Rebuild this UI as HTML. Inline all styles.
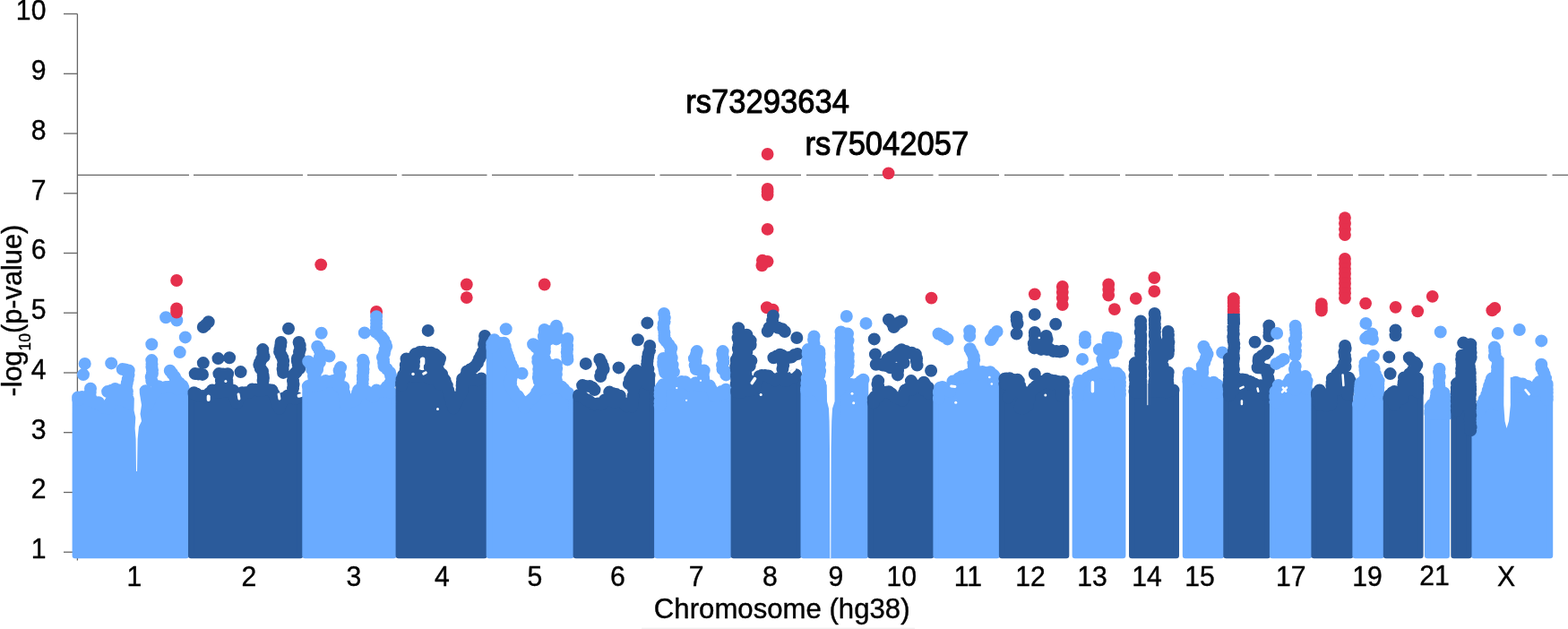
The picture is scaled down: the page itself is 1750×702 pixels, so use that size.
<!DOCTYPE html>
<html lang="en"><head><meta charset="utf-8"><title>Manhattan plot</title>
<style>html,body{margin:0;padding:0;background:#fff}body{width:1750px;height:702px;overflow:hidden}svg text{font-family:"Liberation Sans",Arial,sans-serif;fill:#000;stroke:#000;stroke-linejoin:round}</style>
</head><body>
<svg width="1750" height="702" viewBox="0 0 1750 702" style="display:block">
<rect width="1750" height="702" fill="#fff"/>
<g stroke="#666" stroke-width="1.3" fill="none">
<path d="M86.4 15.5V625.5"/>
<path d="M71 616.2H86.4"/>
<path d="M71 549.5H86.4"/>
<path d="M71 482.7H86.4"/>
<path d="M71 416.0H86.4"/>
<path d="M71 349.2H86.4"/>
<path d="M71 282.5H86.4"/>
<path d="M71 215.8H86.4"/>
<path d="M71 149.0H86.4"/>
<path d="M71 82.3H86.4"/>
<path d="M71 15.5H86.4"/>
<path d="M86.5 195.4H211M216 195.4H338M343 195.4H443M448.5 195.4H543.5M549 195.4H640M645.5 195.4H731M736.5 195.4H816.5M822 195.4H894M900 195.4H969M975 195.4H1041.5M1047.5 195.4H1115M1121 195.4H1187.5M1193.5 195.4H1250M1256 195.4H1309M1315 195.4H1366M1372 195.4H1416.5M1422.5 195.4H1464M1470 195.4H1510M1516 195.4H1545M1550.5 195.4H1583M1588.5 195.4H1612M1617.5 195.4H1642.5M1648.5 195.4H1726.5M1732.5 195.4H1750"/>
</g>
<g fill="#6aabff" stroke="#6aabff"><path d="M83.8 620.1L83.8 446.6L83.8 446.6L95.0 446.6L110.0 453.3L120.1 457.8L125.1 448.6L136.7 447.0L148.4 453.6L163.4 455.3L170.1 442.0L176.8 435.3L207.8 436.1L207.8 436.1L207.8 620.1Z" stroke-width="6.4" stroke-linejoin="round"/><path d="M136.7 412.1h0M139.8 412.5h0M143.7 413.4h0M143.5 418.5h0M142.7 423.4h0M141.8 427.5h0M141.1 431.1h0M141.9 436.7h0M141.7 440.2h0M142.6 445.1h0M169.3 402.1h0M169.5 406.6h0M169.4 409.6h0M170.0 412.9h0M169.9 417.1h0M168.7 420.6h0M169.3 425.1h0M101.0 433.8h0M100.7 438.1h0M100.5 441.5h0M101.0 445.1h0M120.1 437.1h0M124.5 435.7h0M128.5 433.9h0M133.4 435.4h0M162.6 436.3h0M162.1 439.7h0M163.3 443.9h0M162.9 448.0h0M163.4 451.8h0M189.8 413.7h0M192.1 416.7h0M194.9 420.5h0M196.4 423.5h0M200.2 427.5h0M203.5 430.4h0M94.7 405.9h0M93.0 418.1h0M124.2 405.4h0M169.3 384.2h0M185.1 354.2h0M197.3 357.5h0M206.8 376.4h0M200.7 393.1h0M87.1 445.0h0M87.1 443.4h0M87.9 445.9h0M91.5 442.9h0M95.0 443.9h0M98.8 446.8h0M102.5 446.3h0M106.3 449.2h0M110.0 449.3h0M113.4 453.0h0M116.7 454.8h0M120.1 455.6h0M121.7 453.6h0M123.4 448.6h0M125.1 446.9h0M129.0 446.0h0M132.9 445.4h0M136.7 444.4h0M140.6 447.9h0M144.5 450.5h0M148.4 451.1h0M152.2 452.2h0M155.9 450.5h0M159.7 453.2h0M163.4 453.4h0M165.1 451.3h0M166.8 447.3h0M168.4 442.1h0M170.1 439.1h0M173.5 436.8h0M176.8 431.2h0M181.0 432.8h0M185.1 431.9h0M189.3 431.8h0M193.5 431.7h0M197.6 434.3h0M201.8 432.2h0M204.5 432.7h0" stroke-width="14.0" stroke-linecap="round" stroke-linejoin="round" fill="none"/></g>
<path d="M150 438 L151 435 L155 435 L156 440 L158 452 L156.5 462 L158 470 L155 476 L153.6 490 L153 526 L152 526 L151.6 490 L150.6 478 L151.3 466 L149.5 458 Z" fill="#fff"/>
<g fill="#2b5b9b" stroke="#2b5b9b"><path d="M213.2 620.1L213.2 441.6L213.2 441.6L230.2 445.0L236.9 439.0L260.2 437.3L264.4 453.6L270.2 441.5L285.3 435.6L303.6 439.0L311.9 457.0L317.0 445.6L335.1 445.6L335.1 445.6L335.1 620.1Z" stroke-width="6.4" stroke-linejoin="round"/><path d="M232.7 359.2h0M229.6 362.7h0M226.8 365.0h0M217.7 417.1h0M221.2 417.4h0M226.0 417.9h0M244.4 417.1h0M249.0 417.5h0M254.1 417.3h0M253.2 420.5h0M253.3 425.2h0M253.5 428.4h0M246.9 425.1h0M247.6 427.9h0M246.4 431.3h0M246.9 435.1h0M293.3 390.1h0M293.4 394.2h0M294.6 398.0h0M291.7 401.0h0M290.3 404.1h0M289.3 407.0h0M290.7 411.1h0M293.0 414.4h0M293.7 418.9h0M293.9 422.2h0M293.6 425.1h0M313.6 382.0h0M313.2 385.7h0M312.4 389.8h0M312.1 392.7h0M313.7 396.2h0M315.3 399.3h0M316.2 402.8h0M316.0 407.4h0M315.6 412.3h0M316.1 415.9h0M333.6 382.0h0M334.7 385.5h0M334.9 389.8h0M334.0 392.8h0M333.6 397.5h0M331.9 400.0h0M331.9 403.3h0M332.8 407.5h0M334.2 411.2h0M330.7 415.2h0M329.2 416.7h0M327.0 419.3h0M327.0 425.3h0M327.5 429.3h0M327.0 433.4h0M226.8 405.1h0M243.5 400.1h0M256.1 399.2h0M268.6 415.1h0M322.0 366.7h0M216.5 438.3h0M216.5 439.4h0M219.2 439.4h0M222.8 442.1h0M226.5 442.0h0M230.2 443.5h0M233.5 438.9h0M236.9 435.5h0M240.8 437.3h0M244.6 437.7h0M248.5 436.9h0M252.4 436.5h0M256.3 436.2h0M260.2 435.7h0M261.3 438.0h0M262.3 443.1h0M263.4 446.6h0M264.4 449.5h0M266.3 445.5h0M268.3 442.3h0M270.2 438.2h0M274.0 438.2h0M277.7 437.7h0M281.5 434.5h0M285.3 434.7h0M288.9 435.6h0M292.6 436.1h0M296.3 434.7h0M299.9 434.9h0M303.6 435.6h0M305.3 439.1h0M306.9 442.7h0M308.6 447.8h0M310.3 452.3h0M311.9 455.7h0M313.6 450.7h0M315.3 447.5h0M317.0 444.2h0M321.0 441.7h0M325.0 443.8h0M329.0 444.6h0M331.8 444.2h0" stroke-width="14.0" stroke-linecap="round" stroke-linejoin="round" fill="none"/></g>
<path d="M232.7 442.6L232.7 446.0" stroke="#fff" stroke-width="4" stroke-linecap="round" stroke-linejoin="round" fill="none"/>
<path d="M251.9 425.6h0" stroke="#fff" stroke-width="3" stroke-linecap="round" stroke-linejoin="round" fill="none"/>
<path d="M266.9 445.1L266.1 440.1" stroke="#fff" stroke-width="3" stroke-linecap="round" stroke-linejoin="round" fill="none"/>
<path d="M311.9 445.1L311.1 440.1" stroke="#fff" stroke-width="3" stroke-linecap="round" stroke-linejoin="round" fill="none"/>
<path d="M333.6 441.8L337.0 440.9" stroke="#fff" stroke-width="4" stroke-linecap="round" stroke-linejoin="round" fill="none"/>
<path d="M420.1 348.0h0" stroke="#e5304d" stroke-width="14.0" stroke-linecap="round" stroke-linejoin="round" fill="none"/>
<g fill="#6aabff" stroke="#6aabff"><path d="M340.5 620.1L340.5 435.3L340.5 435.3L346.7 433.6L363.4 428.6L371.7 427.0L383.4 435.3L385.9 453.6L396.7 448.6L400.1 438.6L413.4 442.0L416.8 445.3L420.1 438.6L439.4 438.6L439.4 438.6L439.4 620.1Z" stroke-width="6.4" stroke-linejoin="round"/><path d="M354.2 386.7h0M356.7 390.9h0M357.9 395.5h0M362.7 396.8h0M367.5 397.6h0M344.2 403.4h0M347.0 407.4h0M348.2 412.5h0M350.4 414.6h0M351.7 418.4h0M358.4 395.1h0M356.7 398.9h0M356.8 404.4h0M354.5 408.9h0M354.1 412.6h0M351.5 416.3h0M350.0 420.1h0M380.1 410.1h0M378.6 413.5h0M379.1 418.7h0M377.9 422.5h0M377.2 425.7h0M376.7 428.4h0M405.1 401.7h0M405.9 404.6h0M405.2 408.1h0M405.5 411.9h0M405.3 415.5h0M404.8 420.2h0M404.9 423.4h0M404.7 428.0h0M403.8 431.9h0M403.4 435.1h0M420.1 353.3h0M420.1 357.6h0M420.1 360.9h0M420.0 365.4h0M419.3 370.5h0M422.4 373.0h0M426.0 376.2h0M428.2 379.2h0M430.2 383.4h0M431.2 386.8h0M429.7 390.3h0M428.9 394.5h0M426.9 398.8h0M428.0 401.6h0M428.1 405.1h0M428.5 408.7h0M431.7 411.8h0M435.1 415.8h0M436.0 419.0h0M436.9 421.4h0M436.9 425.8h0M435.1 427.9h0M431.7 431.7h0M430.1 435.1h0M358.7 371.7h0M406.8 371.4h0M343.8 431.3h0M343.8 431.1h0M346.7 429.7h0M350.9 430.5h0M355.0 429.7h0M359.2 428.8h0M363.4 425.0h0M367.5 426.1h0M371.7 425.1h0M374.6 425.3h0M377.6 430.0h0M380.5 432.4h0M383.4 431.9h0M383.9 438.1h0M384.4 439.8h0M384.9 443.8h0M385.4 449.2h0M385.9 452.4h0M389.5 448.3h0M393.1 447.6h0M396.7 446.2h0M397.9 442.3h0M399.0 438.5h0M400.1 435.5h0M404.5 438.1h0M409.0 436.7h0M413.4 439.7h0M416.8 442.6h0M418.4 437.8h0M420.1 435.6h0M424.4 436.6h0M428.8 436.2h0M433.1 434.7h0M436.1 437.9h0" stroke-width="14.0" stroke-linecap="round" stroke-linejoin="round" fill="none"/></g>
<g fill="#2b5b9b" stroke="#2b5b9b"><path d="M444.8 620.1L444.8 433.6L444.8 433.6L446.8 428.6L450.1 421.9L495.2 423.6L503.5 448.6L506.0 458.7L510.2 450.3L515.2 442.0L516.1 425.3L540.5 425.3L540.5 425.3L540.5 620.1Z" stroke-width="6.4" stroke-linejoin="round"/><path d="M453.5 400.4h0M453.9 404.8h0M452.8 407.4h0M452.7 411.9h0M453.1 414.5h0M451.7 419.9h0M450.1 423.4h0M468.5 392.9h0M472.3 392.7h0M474.6 393.9h0M478.6 393.7h0M481.2 393.8h0M485.5 395.5h0M487.8 397.4h0M491.0 400.1h0M491.0 400.1h0M489.8 403.9h0M487.6 407.3h0M486.2 410.7h0M489.0 412.6h0M491.4 416.3h0M493.2 417.8h0M492.5 421.3h0M490.7 424.6h0M490.2 428.4h0M463.5 395.1h0M462.2 399.0h0M462.1 403.6h0M461.8 408.4h0M480.2 395.1h0M480.6 398.7h0M480.2 402.6h0M479.9 406.3h0M479.8 410.3h0M480.2 415.1h0M541.1 375.0h0M541.2 379.6h0M540.0 383.9h0M540.9 387.8h0M539.1 392.2h0M536.9 396.7h0M535.1 400.1h0M533.0 405.0h0M530.0 408.9h0M527.8 410.8h0M524.5 412.6h0M521.2 414.5h0M520.1 418.8h0M519.3 421.2h0M518.6 425.1h0M477.7 368.9h0M448.1 429.7h0M448.1 429.9h0M448.1 427.5h0M448.5 423.4h0M450.1 418.7h0M454.2 418.7h0M458.3 419.1h0M462.4 419.8h0M466.5 418.9h0M470.6 420.1h0M474.7 419.6h0M478.8 422.2h0M482.9 422.4h0M487.0 421.0h0M491.1 420.1h0M495.2 422.8h0M496.4 424.1h0M497.6 427.8h0M498.8 430.1h0M500.0 435.1h0M501.2 439.0h0M502.3 442.6h0M503.5 445.1h0M504.4 449.5h0M505.2 451.1h0M506.0 455.4h0M508.1 450.6h0M510.2 447.5h0M512.7 442.1h0M515.2 437.8h0M515.4 434.7h0M515.6 430.2h0M515.8 427.3h0M516.1 422.9h0M520.4 423.7h0M524.7 423.4h0M529.0 423.6h0M533.3 424.2h0M537.2 422.4h0" stroke-width="14.0" stroke-linecap="round" stroke-linejoin="round" fill="none"/></g>
<path d="M471.8 400.9L471.8 405.1" stroke="#fff" stroke-width="5" stroke-linecap="round" stroke-linejoin="round" fill="none"/>
<path d="M461.0 417.6h0" stroke="#fff" stroke-width="3.5" stroke-linecap="round" stroke-linejoin="round" fill="none"/>
<path d="M472.7 417.1L475.2 415.9" stroke="#fff" stroke-width="3" stroke-linecap="round" stroke-linejoin="round" fill="none"/>
<path d="M488.5 456.5h0" stroke="#fff" stroke-width="3" stroke-linecap="round" stroke-linejoin="round" fill="none"/>
<g fill="#6aabff" stroke="#6aabff"><path d="M545.9 620.1L545.9 390.2L545.9 390.2L551.7 382.7L562.5 386.9L568.4 405.3L574.2 417.8L568.4 428.6L573.4 438.6L585.1 455.3L596.7 445.3L603.4 435.3L626.8 435.3L631.8 438.6L637.4 441.1L637.4 441.1L637.4 620.1Z" stroke-width="6.4" stroke-linejoin="round"/><path d="M595.1 384.2h0M598.1 387.2h0M601.2 389.1h0M602.0 392.0h0M602.3 397.4h0M601.9 401.2h0M602.2 404.3h0M601.8 408.9h0M602.3 413.5h0M602.3 417.1h0M602.4 421.3h0M601.7 425.1h0M607.6 367.9h0M607.9 371.5h0M606.8 375.4h0M607.4 379.5h0M608.1 384.3h0M607.8 388.5h0M607.9 392.4h0M606.8 397.0h0M608.0 400.6h0M607.6 404.9h0M606.9 409.1h0M607.2 412.1h0M607.2 417.3h0M607.1 421.4h0M607.6 425.1h0M620.9 363.7h0M621.7 367.3h0M620.7 371.0h0M621.2 375.1h0M620.9 378.4h0M613.4 370.0h0M613.6 374.4h0M613.4 378.4h0M633.4 377.9h0M632.8 381.2h0M633.1 386.1h0M633.1 389.7h0M632.7 392.9h0M633.1 397.8h0M633.4 401.4h0M620.9 407.1h0M621.2 411.0h0M620.6 414.3h0M620.9 417.8h0M620.3 422.1h0M620.9 425.1h0M613.4 407.1h0M612.9 411.4h0M614.1 413.5h0M613.4 418.4h0M614.2 421.4h0M613.4 425.1h0M600.4 400.1h0M600.3 403.8h0M601.6 407.9h0M601.2 412.0h0M601.3 417.5h0M600.9 421.4h0M601.7 425.1h0M564.7 367.2h0M582.6 416.8h0M549.2 387.8h0M549.2 386.6h0M549.2 383.5h0M551.7 379.3h0M555.3 383.1h0M558.9 383.0h0M562.5 382.8h0M563.7 386.4h0M564.9 391.8h0M566.0 395.3h0M567.2 398.4h0M568.4 401.6h0M570.3 406.4h0M572.3 410.5h0M574.2 416.5h0M572.3 417.2h0M570.3 423.4h0M568.4 427.4h0M570.0 428.2h0M571.7 434.3h0M573.4 436.9h0M575.7 440.9h0M578.1 442.1h0M580.4 445.7h0M582.7 449.2h0M585.1 454.6h0M588.0 450.7h0M590.9 447.4h0M593.8 445.1h0M596.7 442.1h0M599.0 437.9h0M601.2 434.8h0M603.4 434.0h0M607.3 432.1h0M611.2 434.4h0M615.1 432.0h0M619.0 432.0h0M622.9 432.9h0M626.8 431.8h0M629.3 434.1h0M631.8 437.8h0M634.1 438.8h0" stroke-width="14.0" stroke-linecap="round" stroke-linejoin="round" fill="none"/></g>
<g fill="#2b5b9b" stroke="#2b5b9b"><path d="M642.8 620.1L642.8 442.0L642.8 442.0L655.1 448.6L663.5 455.3L678.5 448.6L693.5 451.1L699.4 456.2L705.2 456.2L706.9 438.6L711.9 421.9L727.9 421.9L727.9 421.9L727.9 620.1Z" stroke-width="6.4" stroke-linejoin="round"/><path d="M669.3 400.9h0M671.2 404.7h0M672.8 408.8h0M673.6 412.1h0M671.1 416.3h0M670.2 420.1h0M650.1 430.1h0M653.9 431.1h0M658.2 430.9h0M661.1 432.5h0M663.5 435.1h0M680.2 437.6h0M683.5 439.0h0M687.7 440.1h0M691.8 441.8h0M711.9 379.2h0M725.2 385.9h0M725.0 391.0h0M723.6 394.9h0M723.0 399.1h0M722.5 402.9h0M722.2 407.1h0M723.4 411.7h0M722.3 416.6h0M723.5 420.0h0M722.1 423.8h0M722.7 428.4h0M710.2 413.4h0M707.3 416.5h0M705.1 419.7h0M703.1 423.5h0M701.9 428.4h0M653.8 405.9h0M690.5 410.4h0M722.4 360.4h0M646.1 440.9h0M646.1 442.1h0M648.0 442.5h0M651.6 444.2h0M655.1 446.3h0M657.9 448.0h0M660.7 450.1h0M663.5 451.3h0M667.2 450.4h0M671.0 451.2h0M674.7 446.6h0M678.5 446.2h0M682.3 447.3h0M686.0 448.7h0M689.8 447.1h0M693.5 447.9h0M696.4 450.3h0M699.4 453.4h0M705.2 453.5h0M705.6 450.9h0M706.0 446.2h0M706.5 441.9h0M706.9 434.5h0M708.1 430.4h0M709.4 428.6h0M710.6 425.1h0M711.9 419.4h0M716.3 419.8h0M720.6 417.7h0M724.6 419.1h0" stroke-width="14.0" stroke-linecap="round" stroke-linejoin="round" fill="none"/></g>
<g fill="#6aabff" stroke="#6aabff"><path d="M733.3 620.1L733.3 455.3L733.3 455.3L735.2 442.0L740.2 430.3L756.9 428.6L768.6 430.3L792.0 433.6L797.0 445.3L802.0 442.0L813.4 437.0L813.4 437.0L813.4 620.1Z" stroke-width="6.4" stroke-linejoin="round"/><path d="M741.1 350.0h0M741.8 354.6h0M741.6 358.9h0M740.7 361.5h0M740.5 366.3h0M741.4 371.0h0M741.4 374.6h0M741.5 378.3h0M743.7 381.0h0M746.5 384.6h0M749.3 388.6h0M748.5 391.7h0M748.7 396.4h0M749.7 399.4h0M744.1 400.1h0M740.4 399.9h0M740.2 404.0h0M740.3 407.3h0M741.4 412.1h0M742.1 415.7h0M745.2 417.2h0M748.6 420.1h0M748.6 400.1h0M749.0 404.6h0M750.6 407.3h0M750.3 411.3h0M751.9 415.1h0M777.8 392.1h0M776.8 395.9h0M774.9 400.3h0M776.5 403.5h0M775.6 407.6h0M776.8 412.0h0M780.6 413.1h0M785.7 413.4h0M784.8 417.5h0M785.0 420.6h0M785.3 423.4h0M806.7 392.1h0M806.2 395.5h0M807.1 399.6h0M807.4 403.9h0M806.1 407.4h0M806.5 412.0h0M809.2 414.5h0M810.3 418.4h0M736.6 452.5h0M736.6 448.5h0M736.6 447.9h0M736.6 441.6h0M736.6 437.9h0M736.9 434.1h0M738.6 431.4h0M740.2 429.2h0M744.4 428.8h0M748.6 427.8h0M752.8 428.3h0M756.9 427.7h0M760.8 426.1h0M764.7 426.2h0M768.6 429.4h0M772.5 429.3h0M776.4 427.3h0M780.3 430.1h0M784.2 429.6h0M788.1 430.2h0M792.0 430.6h0M793.6 433.9h0M795.3 437.2h0M797.0 442.1h0M799.5 440.7h0M802.0 441.1h0M805.3 436.9h0M808.7 438.6h0M810.1 434.7h0" stroke-width="14.0" stroke-linecap="round" stroke-linejoin="round" fill="none"/></g>
<path d="M755.3 433.1h0" stroke="#fff" stroke-width="2.2" stroke-linecap="round" stroke-linejoin="round" fill="none"/>
<path d="M782.0 424.8h0" stroke="#fff" stroke-width="2.2" stroke-linecap="round" stroke-linejoin="round" fill="none"/>
<path d="M766.1 446.8h0" stroke="#fff" stroke-width="2.2" stroke-linecap="round" stroke-linejoin="round" fill="none"/>
<path d="M855.9 343.3h0M862.6 345.8h0" stroke="#e5304d" stroke-width="14.0" stroke-linecap="round" stroke-linejoin="round" fill="none"/>
<g fill="#2b5b9b" stroke="#2b5b9b"><path d="M818.8 620.1L818.8 438.6L818.8 438.6L840.1 438.6L845.1 425.3L850.1 420.3L865.1 425.3L878.4 427.0L890.1 422.0L891.3 423.6L891.3 423.6L891.3 620.1Z" stroke-width="6.4" stroke-linejoin="round"/><path d="M862.9 352.5h0M862.1 357.6h0M862.3 361.6h0M858.5 365.7h0M856.7 369.7h0M861.8 361.7h0M865.1 364.5h0M868.4 365.7h0M873.0 367.2h0M875.9 370.0h0M824.2 366.2h0M824.1 370.6h0M824.6 373.2h0M823.5 377.2h0M824.9 381.4h0M824.6 386.3h0M823.9 389.2h0M824.9 393.6h0M823.8 397.7h0M823.9 400.9h0M823.4 405.5h0M824.9 409.2h0M824.9 412.1h0M823.8 416.7h0M824.9 421.4h0M824.0 424.2h0M824.2 428.4h0M833.4 373.7h0M833.2 377.6h0M833.9 381.0h0M833.7 385.8h0M833.7 389.8h0M833.3 393.0h0M832.7 396.9h0M833.4 400.4h0M832.4 405.4h0M832.4 408.2h0M832.0 412.9h0M832.4 417.5h0M833.3 421.4h0M832.2 423.9h0M832.5 428.4h0M837.6 380.1h0M837.6 385.1h0M838.4 402.6h0M836.9 405.5h0M836.7 408.4h0M821.7 401.7h0M822.0 405.5h0M821.3 409.2h0M821.9 413.5h0M822.1 417.6h0M822.0 420.2h0M822.2 424.3h0M821.7 428.4h0M863.4 399.2h0M866.9 397.5h0M870.5 395.8h0M873.0 396.8h0M876.2 398.9h0M880.2 399.0h0M883.3 398.6h0M886.8 396.0h0M890.1 395.1h0M873.4 401.7h0M873.9 405.3h0M874.2 407.8h0M873.4 411.8h0M889.3 377.0h0M822.1 436.1h0M822.1 437.3h0M823.9 437.4h0M828.0 437.6h0M832.0 434.6h0M836.0 435.5h0M840.1 434.9h0M841.3 431.8h0M842.6 431.2h0M843.8 426.5h0M845.1 424.3h0M847.6 419.9h0M850.1 419.1h0M853.8 418.9h0M857.6 419.5h0M861.3 422.6h0M865.1 424.4h0M869.5 422.0h0M874.0 424.3h0M878.4 424.9h0M882.3 421.9h0M886.2 420.7h0M888.0 418.3h0" stroke-width="14.0" stroke-linecap="round" stroke-linejoin="round" fill="none"/></g>
<path d="M849.2 440.6h0" stroke="#fff" stroke-width="3" stroke-linecap="round" stroke-linejoin="round" fill="none"/>
<path d="M839.2 427.6L842.6 422.6" stroke="#fff" stroke-width="3.5" stroke-linecap="round" stroke-linejoin="round" fill="none"/>
<path d="M883.4 415.1L886.8 411.8" stroke="#fff" stroke-width="3" stroke-linecap="round" stroke-linejoin="round" fill="none"/>
<g fill="#6aabff" stroke="#6aabff"><path d="M896.7 620.1L896.7 438.6L896.7 438.6L903.5 428.6L915.1 432.0L921.8 445.3L923.5 462.0L931.8 462.0L931.8 428.6L940.2 425.3L953.5 435.3L963.5 427.0L966.1 428.6L966.1 428.6L966.1 620.1Z" stroke-width="6.4" stroke-linejoin="round"/><path d="M908.5 375.4h0M908.0 379.0h0M908.6 383.6h0M908.0 386.5h0M908.2 391.6h0M908.0 395.0h0M908.0 399.7h0M908.5 402.6h0M907.8 407.1h0M908.6 411.4h0M907.8 414.7h0M908.8 419.0h0M908.1 422.9h0M909.2 426.9h0M908.6 430.9h0M908.5 435.1h0M901.8 390.1h0M901.6 394.7h0M902.4 398.0h0M901.1 402.7h0M901.0 405.7h0M902.1 410.4h0M901.9 414.5h0M901.9 418.7h0M900.7 422.1h0M901.2 427.2h0M901.7 430.4h0M901.0 435.1h0M914.3 391.7h0M914.5 395.3h0M914.3 398.8h0M914.0 403.2h0M915.0 406.4h0M914.3 411.3h0M915.1 414.1h0M914.3 418.4h0M913.5 428.4h0M914.0 433.6h0M916.5 437.3h0M916.8 441.8h0M938.5 370.4h0M941.5 372.1h0M945.8 373.2h0M945.4 377.2h0M943.8 381.3h0M943.1 384.9h0M943.9 389.6h0M942.7 392.6h0M942.9 397.1h0M942.7 400.5h0M942.3 405.4h0M941.4 407.7h0M938.9 412.2h0M936.1 415.6h0M936.2 419.3h0M936.9 423.3h0M936.5 427.0h0M937.0 431.0h0M936.8 435.1h0M938.5 370.4h0M938.8 374.4h0M938.4 377.7h0M938.7 382.6h0M938.1 387.1h0M939.0 390.6h0M938.0 394.7h0M937.9 398.2h0M938.4 402.2h0M938.4 407.0h0M937.8 411.2h0M938.5 415.1h0M946.0 372.5h0M945.3 376.8h0M946.5 380.3h0M945.3 384.2h0M945.8 388.7h0M945.4 392.5h0M946.8 396.1h0M946.5 399.1h0M946.8 403.5h0M946.7 408.0h0M945.5 411.7h0M946.0 415.1h0M963.5 423.8h0M960.9 425.4h0M956.9 428.4h0M944.8 353.0h0M966.5 360.9h0M900.0 435.7h0M900.0 433.8h0M900.4 428.3h0M903.5 427.6h0M907.4 426.5h0M911.3 429.5h0M915.1 428.3h0M916.8 432.9h0M918.5 437.7h0M920.2 438.5h0M921.8 442.0h0M922.2 447.1h0M922.7 450.6h0M923.1 453.8h0M923.5 458.4h0M927.7 458.4h0M931.8 461.1h0M931.8 456.0h0M931.8 452.6h0M931.8 445.9h0M931.8 443.9h0M931.8 437.3h0M931.8 434.6h0M931.8 430.8h0M931.8 425.7h0M936.0 425.8h0M940.2 423.0h0M943.5 425.6h0M946.8 429.2h0M950.2 429.0h0M953.5 434.6h0M956.9 430.5h0M960.2 426.9h0M962.8 425.6h0M962.8 424.5h0" stroke-width="14.0" stroke-linecap="round" stroke-linejoin="round" fill="none"/></g>
<path d="M922.2 378 L931.5 378 L931.6 448 L929 456 L928.2 470 L927.6 500 L927.3 623 L926.3 623 L926 500 L925.6 470 L925 456 L923 448 Z" fill="#fff"/>
<path d="M951.0 439.3h0" stroke="#fff" stroke-width="3" stroke-linecap="round" stroke-linejoin="round" fill="none"/>
<path d="M952.7 449.8h0" stroke="#fff" stroke-width="3" stroke-linecap="round" stroke-linejoin="round" fill="none"/>
<g fill="#2b5b9b" stroke="#2b5b9b"><path d="M971.5 620.1L971.5 452.0L971.5 452.0L973.5 448.7L988.6 438.6L998.6 445.3L1006.9 448.7L1010.3 438.6L1023.6 432.0L1037.0 433.6L1039.2 445.3L1039.2 445.3L1039.2 620.1Z" stroke-width="6.4" stroke-linejoin="round"/><path d="M991.9 356.7h0M995.6 360.8h0M997.5 365.1h0M1000.4 362.1h0M1003.7 359.8h0M1006.1 358.4h0M990.2 400.9h0M994.1 398.5h0M997.1 397.7h0M1000.4 395.2h0M1003.3 392.1h0M1006.2 390.3h0M1010.9 391.9h0M1014.4 393.8h0M1017.6 393.8h0M1021.9 395.4h0M977.7 406.8h0M982.1 406.5h0M985.3 407.6h0M989.6 408.2h0M993.7 410.2h0M998.2 411.3h0M1002.1 413.4h0M1001.9 418.4h0M1006.9 390.9h0M1006.8 395.1h0M1007.3 397.4h0M1007.5 401.8h0M1008.6 405.1h0M1021.9 395.4h0M1023.1 399.9h0M1022.9 403.1h0M1023.6 407.6h0M980.2 425.1h0M979.4 428.7h0M980.3 431.5h0M980.2 435.1h0M1016.9 425.1h0M1017.2 428.4h0M1017.6 432.2h0M1016.9 435.1h0M1031.1 426.8h0M1030.7 431.6h0M1031.1 435.1h0M990.2 400.9h0M989.5 404.7h0M990.2 408.4h0M975.7 378.4h0M1039.1 413.8h0M976.9 395.4h0M974.8 449.2h0M974.8 445.3h0M976.6 442.7h0M979.6 443.2h0M982.6 438.5h0M985.6 438.4h0M988.6 437.7h0M991.9 437.2h0M995.2 439.6h0M998.6 443.2h0M1002.7 444.6h0M1006.9 446.7h0M1008.0 444.0h0M1009.1 438.4h0M1010.3 435.5h0M1013.6 433.8h0M1016.9 431.3h0M1020.3 432.5h0M1023.6 430.5h0M1028.1 430.8h0M1032.5 428.9h0M1035.9 432.4h0M1035.9 435.9h0M1035.9 438.9h0" stroke-width="14.0" stroke-linecap="round" stroke-linejoin="round" fill="none"/></g>
<g fill="#6aabff" stroke="#6aabff"><path d="M1044.6 620.1L1044.6 445.3L1044.6 445.3L1046.7 438.6L1051.7 435.3L1060.0 438.6L1063.4 428.6L1073.4 423.6L1083.4 418.6L1105.1 417.0L1111.8 422.0L1112.7 432.0L1112.7 432.0L1112.7 620.1Z" stroke-width="6.4" stroke-linejoin="round"/><path d="M1047.5 372.5h0M1051.2 374.4h0M1053.8 375.8h0M1057.5 378.4h0M1082.2 369.2h0M1082.2 375.0h0M1112.6 370.0h0M1109.9 372.4h0M1107.9 376.6h0M1105.9 379.2h0M1082.6 389.2h0M1084.3 392.8h0M1085.7 395.0h0M1086.8 398.3h0M1087.2 401.8h0M1086.4 405.3h0M1086.7 408.4h0M1047.9 444.5h0M1047.9 438.5h0M1047.9 437.5h0M1049.2 432.8h0M1051.7 432.0h0M1055.9 433.6h0M1060.0 437.0h0M1061.1 434.4h0M1062.3 430.4h0M1063.4 425.6h0M1066.7 425.8h0M1070.0 422.2h0M1073.4 420.3h0M1076.7 420.9h0M1080.1 418.3h0M1083.4 416.8h0M1087.7 416.4h0M1092.1 417.2h0M1096.4 415.1h0M1100.7 416.0h0M1105.1 415.2h0M1108.4 418.3h0M1109.4 419.3h0M1109.4 423.6h0M1109.4 426.4h0" stroke-width="14.0" stroke-linecap="round" stroke-linejoin="round" fill="none"/></g>
<path d="M1104.3 420.9h0" stroke="#fff" stroke-width="2.5" stroke-linecap="round" stroke-linejoin="round" fill="none"/>
<path d="M1106.8 428.4h0" stroke="#fff" stroke-width="2.5" stroke-linecap="round" stroke-linejoin="round" fill="none"/>
<path d="M1066.7 449.3h0" stroke="#fff" stroke-width="3" stroke-linecap="round" stroke-linejoin="round" fill="none"/>
<path d="M1061.7 430.9L1065.9 431.4" stroke="#fff" stroke-width="3" stroke-linecap="round" stroke-linejoin="round" fill="none"/>
<g fill="#2b5b9b" stroke="#2b5b9b"><path d="M1118.1 620.1L1118.1 428.6L1118.1 428.6L1123.4 425.3L1136.8 428.6L1141.8 445.3L1138.5 458.7L1146.8 455.3L1150.1 438.6L1163.5 428.6L1190.1 430.3L1190.1 445.3L1190.1 445.3L1190.1 620.1Z" stroke-width="6.4" stroke-linejoin="round"/><path d="M1134.6 353.7h0M1134.7 357.0h0M1135.5 361.2h0M1154.8 370.9h0M1154.9 374.6h0M1155.2 379.1h0M1153.7 383.4h0M1154.3 388.4h0M1167.7 375.0h0M1168.6 378.7h0M1167.6 382.1h0M1167.8 387.0h0M1172.0 390.0h0M1175.5 391.9h0M1178.9 392.1h0M1182.9 392.5h0M1186.0 391.7h0M1154.3 388.4h0M1158.5 388.1h0M1162.0 389.9h0M1165.7 389.0h0M1168.5 390.1h0M1123.4 422.6h0M1126.9 422.3h0M1130.5 423.7h0M1135.6 423.7h0M1134.5 427.5h0M1132.6 430.6h0M1131.1 435.5h0M1129.1 437.6h0M1127.2 439.9h0M1125.1 443.5h0M1153.5 433.4h0M1156.1 431.1h0M1159.8 429.2h0M1162.2 428.2h0M1165.5 426.0h0M1168.7 422.7h0M1172.5 424.2h0M1177.3 424.9h0M1181.3 426.0h0M1184.7 427.4h0M1184.5 431.0h0M1184.7 433.5h0M1184.7 438.5h0M1185.2 441.8h0M1134.6 372.5h0M1154.8 350.9h0M1178.2 361.7h0M1154.8 417.6h0M1121.4 427.9h0M1121.4 422.8h0M1123.4 422.8h0M1127.9 423.9h0M1132.3 426.1h0M1136.8 425.1h0M1138.0 430.3h0M1139.3 434.0h0M1140.5 439.9h0M1141.8 442.0h0M1140.7 448.9h0M1139.6 451.0h0M1138.5 455.2h0M1142.6 455.2h0M1146.8 452.9h0M1147.6 447.3h0M1148.5 445.0h0M1149.3 438.9h0M1150.1 437.2h0M1153.5 434.4h0M1156.8 432.2h0M1160.2 429.1h0M1163.5 425.7h0M1167.3 426.1h0M1171.1 426.3h0M1174.9 428.3h0M1178.7 425.7h0M1182.6 428.7h0M1186.4 425.9h0M1186.8 426.8h0M1186.8 430.8h0M1186.8 436.8h0M1186.8 439.1h0" stroke-width="14.0" stroke-linecap="round" stroke-linejoin="round" fill="none"/></g>
<path d="M1166.8 441.0h0" stroke="#fff" stroke-width="3" stroke-linecap="round" stroke-linejoin="round" fill="none"/>
<path d="M1159.8 377.0h0" stroke="#fff" stroke-width="2.5" stroke-linecap="round" stroke-linejoin="round" fill="none"/>
<g fill="#6aabff" stroke="#6aabff"><path d="M1199.8 620.1L1199.8 443.6L1201.0 443.6L1205.2 428.6L1213.5 425.3L1221.9 420.3L1230.2 418.6L1246.9 418.6L1251.9 425.3L1253.2 445.3L1253.2 445.3L1253.2 620.1Z" stroke-width="6.4" stroke-linejoin="round"/><path d="M1211.0 375.9h0M1210.9 379.8h0M1211.0 382.6h0M1236.9 376.7h0M1240.7 377.1h0M1245.3 378.0h0M1245.7 381.5h0M1245.0 384.8h0M1241.4 387.8h0M1238.8 389.9h0M1234.7 391.6h0M1231.5 391.0h0M1226.9 390.1h0M1236.9 376.7h0M1236.3 380.8h0M1237.5 384.6h0M1236.4 388.9h0M1237.2 394.0h0M1234.1 395.6h0M1232.1 398.7h0M1230.3 401.2h0M1231.6 405.4h0M1233.6 410.1h0M1243.6 378.4h0M1243.9 382.5h0M1242.1 386.6h0M1241.7 389.5h0M1241.9 393.4h0M1208.0 400.9h0M1203.1 442.9h0M1203.1 438.5h0M1203.1 434.5h0M1204.2 429.7h0M1205.2 425.1h0M1209.4 425.0h0M1213.5 421.5h0M1217.7 419.3h0M1221.9 417.4h0M1226.1 415.4h0M1230.2 415.8h0M1234.4 417.2h0M1238.6 416.8h0M1242.7 416.2h0M1246.9 416.6h0M1249.4 419.4h0M1249.9 421.6h0M1249.9 427.2h0M1249.9 430.5h0M1249.9 435.7h0M1249.9 440.3h0" stroke-width="14.0" stroke-linecap="round" stroke-linejoin="round" fill="none"/></g>
<path d="M1219.4 426.8L1219.4 436.8" stroke="#fff" stroke-width="3.5" stroke-linecap="round" stroke-linejoin="round" fill="none"/>
<g fill="#2b5b9b" stroke="#2b5b9b"><path d="M1263.2 620.1L1263.2 438.6L1263.2 438.6L1312.8 438.6L1312.8 438.6L1312.8 620.1Z" stroke-width="6.4" stroke-linejoin="round"/><path d="M1273.1 358.4h0M1273.0 362.5h0M1273.5 366.3h0M1272.7 370.8h0M1273.7 375.0h0M1273.4 379.1h0M1273.4 382.8h0M1273.0 386.3h0M1273.3 390.0h0M1273.0 395.2h0M1273.5 399.0h0M1272.7 402.7h0M1273.0 407.0h0M1273.0 411.2h0M1273.8 414.4h0M1273.4 419.4h0M1272.9 423.0h0M1273.9 426.3h0M1273.2 430.5h0M1273.1 435.1h0M1288.6 350.0h0M1289.1 354.8h0M1288.7 357.5h0M1288.8 362.2h0M1289.0 366.2h0M1288.9 370.8h0M1288.7 374.2h0M1289.4 377.9h0M1288.9 382.3h0M1289.1 385.9h0M1289.4 390.3h0M1287.9 394.2h0M1288.5 397.9h0M1288.5 402.6h0M1289.0 406.5h0M1288.3 410.4h0M1289.0 415.6h0M1288.7 418.5h0M1289.1 422.8h0M1288.2 426.4h0M1289.1 431.6h0M1288.6 435.1h0M1303.7 370.0h0M1303.9 374.2h0M1303.8 377.9h0M1304.4 382.3h0M1303.9 387.2h0M1304.2 390.8h0M1303.7 395.1h0M1303.7 415.4h0M1303.3 419.4h0M1303.1 423.8h0M1303.4 427.8h0M1303.3 431.0h0M1303.7 435.1h0M1266.9 405.1h0M1266.5 408.7h0M1266.4 411.8h0M1267.3 416.0h0M1266.5 419.8h0M1266.9 423.7h0M1267.2 427.9h0M1266.7 432.0h0M1266.9 435.1h0M1297.0 385.1h0M1297.5 388.2h0M1297.5 393.4h0M1297.4 396.0h0M1297.5 400.7h0M1296.2 403.5h0M1297.7 408.4h0M1296.6 411.4h0M1296.4 415.4h0M1297.4 419.5h0M1296.4 424.2h0M1297.4 426.9h0M1297.6 431.4h0M1297.0 435.1h0M1266.5 437.2h0M1266.5 436.8h0M1268.5 437.6h0M1272.6 437.2h0M1276.7 437.4h0M1280.8 435.1h0M1284.9 436.9h0M1289.0 436.3h0M1293.1 437.0h0M1297.2 436.0h0M1301.3 437.5h0M1305.4 436.4h0M1309.5 435.4h0" stroke-width="14.0" stroke-linecap="round" stroke-linejoin="round" fill="none"/></g>
<path d="M1280.8 353.4L1280.8 451.8" stroke="#fff" stroke-width="1.0" stroke-linecap="round" stroke-linejoin="round" fill="none"/>
<g fill="#6aabff" stroke="#6aabff"><path d="M1323.0 620.1L1323.0 428.6L1323.0 428.6L1326.7 420.3L1338.4 423.6L1346.7 428.6L1358.4 430.3L1363.1 438.6L1363.1 445.3L1363.1 445.3L1363.1 620.1Z" stroke-width="6.4" stroke-linejoin="round"/><path d="M1343.4 386.7h0M1344.3 389.2h0M1346.2 392.1h0M1347.5 395.3h0M1345.9 399.8h0M1344.3 404.3h0M1341.8 408.1h0M1342.2 411.3h0M1342.3 415.4h0M1341.7 418.4h0M1364.2 393.4h0M1326.3 425.7h0M1326.3 423.1h0M1326.3 422.2h0M1326.7 416.4h0M1330.6 419.4h0M1334.5 420.5h0M1338.4 419.5h0M1342.5 424.1h0M1346.7 426.8h0M1350.6 428.2h0M1354.5 426.7h0M1358.4 429.5h0M1359.8 430.7h0M1359.8 433.4h0M1359.8 437.6h0M1359.8 437.9h0" stroke-width="14.0" stroke-linecap="round" stroke-linejoin="round" fill="none"/></g>
<path d="M1376.8 333.3h0M1376.8 335.8h0M1376.8 338.3h0M1376.8 341.7h0M1376.8 345.0h0M1376.8 348.3h0" stroke="#e5304d" stroke-width="14.0" stroke-linecap="round" stroke-linejoin="round" fill="none"/>
<g fill="#2b5b9b" stroke="#2b5b9b"><path d="M1368.5 620.1L1368.5 445.3L1368.5 445.3L1370.1 425.3L1383.4 425.3L1393.4 432.0L1406.8 432.0L1414.7 438.6L1414.7 445.3L1414.7 445.3L1414.7 620.1Z" stroke-width="6.4" stroke-linejoin="round"/><path d="M1376.8 356.7h0M1377.1 360.8h0M1376.5 365.1h0M1376.5 368.4h0M1376.8 372.8h0M1376.3 376.2h0M1376.6 380.3h0M1377.3 383.8h0M1377.3 387.9h0M1376.8 391.6h0M1376.8 396.7h0M1377.0 400.3h0M1376.5 403.5h0M1376.4 407.8h0M1377.0 412.0h0M1376.0 415.9h0M1377.4 419.5h0M1376.0 423.0h0M1376.0 426.8h0M1377.4 431.4h0M1376.8 435.1h0M1371.8 400.1h0M1372.0 404.4h0M1372.4 408.0h0M1371.9 412.0h0M1372.1 415.8h0M1372.0 419.1h0M1372.0 423.4h0M1372.2 426.7h0M1371.2 430.5h0M1371.8 435.1h0M1416.3 363.4h0M1416.7 367.9h0M1416.6 370.9h0M1416.3 375.0h0M1415.1 391.7h0M1412.3 395.0h0M1408.6 396.9h0M1404.8 400.0h0M1404.6 403.3h0M1404.8 407.4h0M1403.6 410.2h0M1407.2 410.6h0M1412.0 412.4h0M1415.8 413.3h0M1414.4 417.0h0M1415.3 421.6h0M1415.9 424.6h0M1415.1 428.4h0M1386.8 423.4h0M1390.0 424.1h0M1393.7 425.5h0M1396.2 426.4h0M1400.1 428.4h0M1400.6 381.7h0M1371.8 441.1h0M1371.8 439.5h0M1371.8 433.5h0M1371.8 432.5h0M1371.8 425.4h0M1371.8 424.1h0M1374.5 421.5h0M1379.0 421.2h0M1383.4 423.6h0M1386.8 424.2h0M1390.1 428.1h0M1393.4 428.4h0M1397.9 427.9h0M1402.3 430.5h0M1406.8 430.3h0M1410.1 433.0h0M1411.4 434.8h0M1411.4 434.7h0M1411.4 440.0h0" stroke-width="14.0" stroke-linecap="round" stroke-linejoin="round" fill="none"/><rect x="1369.9" y="350" width="13.9" height="12" stroke="none"/></g>
<path d="M1384.3 433.4L1387.6 431.8" stroke="#fff" stroke-width="2.5" stroke-linecap="round" stroke-linejoin="round" fill="none"/>
<path d="M1403.5 433.4L1404.3 436.8" stroke="#fff" stroke-width="2.5" stroke-linecap="round" stroke-linejoin="round" fill="none"/>
<path d="M1385.9 447.6L1385.9 451.0" stroke="#fff" stroke-width="2.5" stroke-linecap="round" stroke-linejoin="round" fill="none"/>
<g fill="#6aabff" stroke="#6aabff"><path d="M1420.1 620.1L1420.1 452.0L1420.1 452.0L1423.5 438.6L1433.5 435.3L1440.2 425.3L1460.2 427.0L1461.2 438.6L1461.2 438.6L1461.2 620.1Z" stroke-width="6.4" stroke-linejoin="round"/><path d="M1445.7 363.7h0M1446.0 367.8h0M1446.4 371.6h0M1446.4 376.4h0M1444.9 379.4h0M1445.9 384.9h0M1445.0 388.2h0M1446.0 392.1h0M1445.7 396.7h0M1432.7 400.9h0M1429.1 403.4h0M1424.3 405.9h0M1445.7 408.8h0M1445.0 412.3h0M1445.8 416.2h0M1446.0 419.5h0M1446.1 423.6h0M1445.9 427.8h0M1445.5 431.2h0M1445.7 435.1h0M1456.8 420.1h0M1458.5 425.1h0M1426.8 430.1h0M1427.3 435.3h0M1427.3 439.1h0M1426.8 443.5h0M1425.1 372.0h0M1423.4 448.8h0M1423.4 443.6h0M1423.4 442.3h0M1423.5 436.9h0M1426.8 436.2h0M1430.2 433.4h0M1433.5 433.2h0M1435.7 431.2h0M1437.9 427.3h0M1440.2 423.2h0M1444.2 422.5h0M1448.2 423.3h0M1452.2 425.2h0M1456.2 423.7h0M1457.9 425.2h0M1457.9 428.8h0M1457.9 433.7h0" stroke-width="14.0" stroke-linecap="round" stroke-linejoin="round" fill="none"/></g>
<path d="M1431.0 437.6L1436.0 432.6" stroke="#fff" stroke-width="2.5" stroke-linecap="round" stroke-linejoin="round" fill="none"/>
<path d="M1431.8 432.6L1435.2 436.8" stroke="#fff" stroke-width="2.5" stroke-linecap="round" stroke-linejoin="round" fill="none"/>
<g fill="#2b5b9b" stroke="#2b5b9b"><path d="M1466.6 620.1L1466.6 442.0L1466.6 442.0L1478.5 442.0L1480.2 455.3L1485.2 453.7L1486.9 425.3L1507.2 428.6L1507.2 445.3L1507.2 445.3L1507.2 620.1Z" stroke-width="6.4" stroke-linejoin="round"/><path d="M1501.1 385.9h0M1501.6 389.3h0M1500.3 393.0h0M1500.9 397.3h0M1501.6 401.5h0M1500.3 405.2h0M1501.6 409.0h0M1498.1 410.8h0M1495.5 414.5h0M1492.2 417.4h0M1491.6 419.8h0M1492.0 424.6h0M1491.4 428.2h0M1492.6 431.0h0M1491.9 435.1h0M1472.7 435.5h0M1472.9 439.8h0M1472.6 443.2h0M1472.3 448.1h0M1472.7 451.8h0M1505.2 421.8h0M1506.8 425.0h0M1506.8 428.9h0M1508.6 431.8h0M1469.9 440.5h0M1469.9 438.6h0M1474.1 439.8h0M1478.5 440.9h0M1479.1 445.3h0M1479.7 448.5h0M1480.2 452.8h0M1485.2 451.5h0M1485.5 446.1h0M1485.7 442.0h0M1485.9 437.9h0M1486.2 435.7h0M1486.4 430.5h0M1486.6 427.1h0M1486.9 422.5h0M1491.2 423.6h0M1495.6 422.9h0M1499.9 423.3h0M1503.9 427.3h0M1503.9 425.7h0M1503.9 429.0h0M1503.9 435.0h0M1503.9 439.7h0" stroke-width="14.0" stroke-linecap="round" stroke-linejoin="round" fill="none"/></g>
<path d="M1498.6 418.4L1499.4 430.1" stroke="#fff" stroke-width="2.5" stroke-linecap="round" stroke-linejoin="round" fill="none"/>
<g fill="#6aabff" stroke="#6aabff"><path d="M1512.6 620.1L1512.6 455.3L1512.6 455.3L1516.9 452.0L1518.6 428.6L1533.6 423.6L1541.6 432.0L1541.6 445.3L1541.6 445.3L1541.6 620.1Z" stroke-width="6.4" stroke-linejoin="round"/><path d="M1524.4 360.9h0M1531.1 372.5h0M1527.2 375.2h0M1524.2 377.6h0M1527.4 377.4h0M1531.9 378.7h0M1523.6 405.1h0M1527.7 407.9h0M1530.2 409.6h0M1533.6 411.8h0M1523.6 405.1h0M1523.2 409.3h0M1523.5 413.3h0M1524.0 416.9h0M1524.3 419.7h0M1522.9 423.4h0M1523.1 426.9h0M1522.9 431.5h0M1523.6 435.1h0M1531.9 413.4h0M1534.8 417.3h0M1537.1 421.9h0M1538.6 425.1h0M1532.8 397.1h0M1515.9 451.4h0M1515.9 451.6h0M1516.9 449.2h0M1517.2 444.3h0M1517.5 443.4h0M1517.8 437.0h0M1518.0 434.2h0M1518.3 430.6h0M1518.6 427.8h0M1522.3 425.5h0M1526.1 423.3h0M1529.9 422.2h0M1533.6 420.0h0M1536.4 425.6h0M1538.3 428.5h0M1538.3 428.5h0M1538.3 432.4h0M1538.3 437.6h0" stroke-width="14.0" stroke-linecap="round" stroke-linejoin="round" fill="none"/></g>
<g fill="#2b5b9b" stroke="#2b5b9b"><path d="M1547.0 620.1L1547.0 448.7L1547.0 448.7L1557.0 440.3L1565.3 445.3L1567.0 425.3L1585.4 425.3L1585.4 445.3L1585.4 445.3L1585.4 620.1Z" stroke-width="6.4" stroke-linejoin="round"/><path d="M1557.5 368.4h0M1557.5 374.2h0M1572.8 399.2h0M1575.6 402.4h0M1579.6 404.8h0M1581.3 407.2h0M1579.6 410.3h0M1577.2 412.7h0M1573.1 417.2h0M1574.7 420.7h0M1574.0 424.3h0M1575.1 427.1h0M1574.7 431.1h0M1575.3 435.1h0M1556.1 437.1h0M1555.5 440.8h0M1555.6 444.0h0M1555.6 448.4h0M1556.1 451.8h0M1550.3 398.4h0M1551.6 417.1h0M1550.3 444.5h0M1550.3 444.9h0M1551.1 441.0h0M1554.0 438.3h0M1557.0 439.4h0M1561.1 439.4h0M1565.3 444.4h0M1565.6 440.1h0M1566.0 436.2h0M1566.3 429.6h0M1566.6 426.7h0M1567.0 421.4h0M1571.0 424.3h0M1575.0 424.0h0M1579.0 423.3h0M1582.1 422.7h0M1582.1 422.3h0M1582.1 428.0h0M1582.1 430.8h0M1582.1 435.3h0M1582.1 437.6h0" stroke-width="14.0" stroke-linecap="round" stroke-linejoin="round" fill="none"/></g>
<g fill="#6aabff" stroke="#6aabff"><path d="M1593.1 620.1L1593.1 465.3L1593.1 465.3L1596.5 457.8L1614.8 457.8L1614.8 465.3L1614.8 465.3L1614.8 620.1Z" stroke-width="6.4" stroke-linejoin="round"/><path d="M1606.5 411.8h0M1606.1 415.2h0M1606.8 420.2h0M1605.9 424.9h0M1606.1 428.3h0M1606.5 432.5h0M1608.2 437.1h0M1607.6 441.8h0M1607.7 446.4h0M1607.2 450.6h0M1607.0 454.4h0M1607.8 457.3h0M1607.3 461.8h0M1603.2 438.5h0M1602.9 442.0h0M1602.2 445.8h0M1602.1 450.9h0M1602.9 454.7h0M1601.1 457.6h0M1601.5 461.8h0M1611.5 438.5h0M1612.3 441.6h0M1612.2 445.9h0M1612.7 449.4h0M1612.6 453.8h0M1611.6 457.1h0M1612.3 461.8h0M1598.2 451.8h0M1598.7 455.2h0M1597.7 458.4h0M1598.2 461.8h0M1615.7 451.8h0M1616.3 454.7h0M1615.8 457.9h0M1615.7 461.8h0M1607.7 370.5h0M1596.4 461.8h0M1596.4 461.3h0M1596.4 458.6h0M1596.5 454.3h0M1600.5 453.9h0M1604.5 453.9h0M1608.5 455.8h0M1611.5 455.4h0M1611.5 454.6h0M1611.5 458.1h0" stroke-width="14.0" stroke-linecap="round" stroke-linejoin="round" fill="none"/></g>
<g fill="#6aabff" stroke="#6aabff"><path d="M1645.1 620.1L1645.1 462.0L1645.1 462.0L1651.6 460.3L1656.6 448.7L1660.7 438.6L1664.9 425.3L1678.3 425.3L1685.8 432.0L1705.0 433.6L1713.3 438.6L1718.3 428.6L1730.0 435.3L1730.0 452.0L1730.0 452.0L1730.0 620.1Z" stroke-width="6.4" stroke-linejoin="round"/><path d="M1667.9 387.6h0M1668.2 391.5h0M1668.6 394.9h0M1667.8 397.7h0M1671.1 401.6h0M1673.6 404.4h0M1673.2 409.3h0M1672.7 414.6h0M1671.6 417.7h0M1670.6 421.7h0M1668.8 424.7h0M1666.1 429.0h0M1664.7 431.2h0M1663.0 435.3h0M1660.8 438.5h0M1660.4 442.9h0M1658.7 447.7h0M1658.2 451.8h0M1671.2 401.7h0M1671.8 406.2h0M1671.0 409.8h0M1671.1 413.7h0M1670.5 417.7h0M1672.0 421.0h0M1671.3 424.9h0M1671.3 427.9h0M1672.0 432.1h0M1670.7 435.8h0M1670.8 440.8h0M1670.5 443.5h0M1671.6 447.5h0M1671.2 451.8h0M1720.3 406.8h0M1720.5 410.8h0M1722.4 414.6h0M1723.6 417.8h0M1725.0 422.1h0M1724.8 424.5h0M1726.6 428.4h0M1725.7 431.2h0M1725.4 434.5h0M1725.0 438.5h0M1691.6 426.8h0M1695.9 428.2h0M1699.4 428.6h0M1702.8 431.2h0M1705.0 435.1h0M1671.6 372.0h0M1695.8 368.0h0M1720.3 380.4h0M1648.4 460.7h0M1648.4 460.5h0M1648.4 458.1h0M1651.6 457.6h0M1653.2 455.2h0M1654.9 450.2h0M1656.6 445.8h0M1658.0 444.4h0M1659.3 440.5h0M1660.7 435.6h0M1662.1 430.8h0M1663.5 426.7h0M1664.9 422.6h0M1669.4 424.5h0M1673.8 423.9h0M1678.3 424.3h0M1680.8 426.2h0M1683.3 428.5h0M1685.8 428.0h0M1689.6 429.9h0M1693.4 431.8h0M1697.3 432.0h0M1701.1 430.0h0M1705.0 430.9h0M1709.1 434.2h0M1713.3 435.7h0M1715.0 433.0h0M1716.6 428.0h0M1718.3 425.9h0M1721.6 427.9h0M1725.0 427.8h0M1726.7 429.9h0M1726.7 434.5h0M1726.7 438.0h0M1726.7 442.7h0M1726.7 445.8h0" stroke-width="14.0" stroke-linecap="round" stroke-linejoin="round" fill="none"/></g>
<path d="M1678.6 400 L1685.6 400 L1685.8 452 L1684 470 L1681.5 478 L1679.5 470 L1678.3 452 Z" fill="#fff"/>
<path d="M1702.5 435.1L1706.6 440.1" stroke="#fff" stroke-width="2.5" stroke-linecap="round" stroke-linejoin="round" fill="none"/>
<g fill="#2b5b9b" stroke="#2b5b9b"><path d="M1622.5 620.1L1622.5 460.3L1622.5 460.3L1624.9 438.6L1626.5 428.6L1639.3 428.6L1639.3 445.3L1639.3 445.3L1639.3 620.1Z" stroke-width="6.4" stroke-linejoin="round"/><path d="M1633.2 382.6h0M1637.5 384.4h0M1641.3 384.3h0M1641.2 389.1h0M1641.6 393.6h0M1641.6 399.1h0M1638.4 399.7h0M1634.9 401.6h0M1635.6 405.9h0M1634.6 410.9h0M1634.3 415.2h0M1636.9 418.5h0M1637.0 421.7h0M1638.7 424.5h0M1639.3 427.9h0M1637.0 431.6h0M1634.5 434.7h0M1634.2 439.4h0M1635.4 443.6h0M1635.0 447.9h0M1634.9 451.8h0M1631.5 396.7h0M1631.1 401.0h0M1631.5 404.7h0M1631.7 408.5h0M1631.2 412.1h0M1631.1 416.4h0M1631.3 420.5h0M1630.8 424.0h0M1632.1 427.8h0M1631.6 432.1h0M1631.2 436.9h0M1631.2 440.4h0M1631.0 443.2h0M1632.1 447.8h0M1631.5 451.8h0M1639.9 385.1h0M1639.2 388.8h0M1639.9 393.3h0M1639.4 396.4h0M1640.8 401.1h0M1639.6 404.4h0M1639.9 408.9h0M1640.4 413.1h0M1640.8 416.5h0M1640.7 420.8h0M1640.8 424.3h0M1640.9 428.6h0M1641.1 431.6h0M1641.1 435.3h0M1641.0 440.2h0M1640.6 444.7h0M1640.8 447.7h0M1641.2 452.4h0M1641.0 455.7h0M1640.8 459.8h0M1641.3 463.6h0M1640.8 468.1h0M1640.9 471.8h0M1641.6 476.7h0M1641.2 480.2h0M1625.8 457.9h0M1625.8 453.4h0M1625.8 448.1h0M1625.8 444.2h0M1625.8 439.3h0M1625.8 436.5h0M1625.8 433.1h0M1626.0 428.1h0M1626.5 427.7h0M1630.3 425.6h0M1634.0 427.4h0M1636.0 427.4h0M1636.0 427.8h0M1636.0 429.3h0M1636.0 434.3h0M1636.0 440.1h0" stroke-width="14.0" stroke-linecap="round" stroke-linejoin="round" fill="none"/></g>
<circle cx="197.1" cy="313.0" r="6.9" fill="#e5304d"/>
<circle cx="197.1" cy="344.5" r="6.9" fill="#e5304d"/>
<circle cx="197.1" cy="348.5" r="6.9" fill="#e5304d"/>
<circle cx="358.2" cy="295.3" r="6.9" fill="#e5304d"/>
<circle cx="520.8" cy="317.5" r="6.9" fill="#e5304d"/>
<circle cx="520.8" cy="332.1" r="6.9" fill="#e5304d"/>
<circle cx="607.7" cy="317.5" r="6.9" fill="#e5304d"/>
<circle cx="856.6" cy="172.0" r="6.9" fill="#e5304d"/>
<circle cx="991.6" cy="193.3" r="6.9" fill="#e5304d"/>
<circle cx="856.6" cy="211.0" r="6.9" fill="#e5304d"/>
<circle cx="856.6" cy="214.0" r="6.9" fill="#e5304d"/>
<circle cx="856.6" cy="217.6" r="6.9" fill="#e5304d"/>
<circle cx="856.6" cy="255.9" r="6.9" fill="#e5304d"/>
<circle cx="850.9" cy="290.6" r="6.9" fill="#e5304d"/>
<circle cx="856.6" cy="291.8" r="6.9" fill="#e5304d"/>
<circle cx="850.4" cy="296.4" r="6.9" fill="#e5304d"/>
<circle cx="1039.5" cy="332.6" r="6.9" fill="#e5304d"/>
<circle cx="1154.8" cy="328.3" r="6.9" fill="#e5304d"/>
<circle cx="1185.8" cy="320.0" r="6.9" fill="#e5304d"/>
<circle cx="1185.8" cy="326.0" r="6.9" fill="#e5304d"/>
<circle cx="1185.8" cy="332.6" r="6.9" fill="#e5304d"/>
<circle cx="1185.8" cy="340.1" r="6.9" fill="#e5304d"/>
<circle cx="1237.2" cy="317.5" r="6.9" fill="#e5304d"/>
<circle cx="1237.2" cy="323.0" r="6.9" fill="#e5304d"/>
<circle cx="1237.2" cy="329.6" r="6.9" fill="#e5304d"/>
<circle cx="1243.9" cy="345.1" r="6.9" fill="#e5304d"/>
<circle cx="1267.7" cy="333.1" r="6.9" fill="#e5304d"/>
<circle cx="1288.3" cy="310.0" r="6.9" fill="#e5304d"/>
<circle cx="1288.3" cy="325.1" r="6.9" fill="#e5304d"/>
<circle cx="1501.0" cy="243.1" r="6.9" fill="#e5304d"/>
<circle cx="1501.0" cy="249.4" r="6.9" fill="#e5304d"/>
<circle cx="1501.0" cy="255.8" r="6.9" fill="#e5304d"/>
<circle cx="1501.0" cy="262.1" r="6.9" fill="#e5304d"/>
<circle cx="1501.0" cy="289.0" r="6.9" fill="#e5304d"/>
<circle cx="1501.0" cy="294.5" r="6.9" fill="#e5304d"/>
<circle cx="1501.0" cy="299.9" r="6.9" fill="#e5304d"/>
<circle cx="1501.0" cy="305.4" r="6.9" fill="#e5304d"/>
<circle cx="1501.0" cy="310.9" r="6.9" fill="#e5304d"/>
<circle cx="1501.0" cy="316.4" r="6.9" fill="#e5304d"/>
<circle cx="1501.0" cy="321.9" r="6.9" fill="#e5304d"/>
<circle cx="1501.0" cy="327.3" r="6.9" fill="#e5304d"/>
<circle cx="1501.0" cy="332.8" r="6.9" fill="#e5304d"/>
<circle cx="1474.9" cy="339.1" r="6.9" fill="#e5304d"/>
<circle cx="1474.9" cy="343.0" r="6.9" fill="#e5304d"/>
<circle cx="1474.9" cy="346.6" r="6.9" fill="#e5304d"/>
<circle cx="1524.1" cy="338.6" r="6.9" fill="#e5304d"/>
<circle cx="1557.6" cy="342.8" r="6.9" fill="#e5304d"/>
<circle cx="1582.2" cy="347.3" r="6.9" fill="#e5304d"/>
<circle cx="1598.7" cy="330.8" r="6.9" fill="#e5304d"/>
<circle cx="1665.3" cy="346.4" r="6.9" fill="#e5304d"/>
<circle cx="1668.3" cy="343.9" r="6.9" fill="#e5304d"/>
<rect x="716" y="700.6" width="305" height="1.4" fill="#f2f2f2"/>
<g stroke-width="0.4">
<text transform="translate(51.4 623.0) scale(0.955 1)" font-size="31.6" text-anchor="end">1</text>
<text transform="translate(51.4 556.3) scale(0.955 1)" font-size="31.6" text-anchor="end">2</text>
<text transform="translate(51.4 489.5) scale(0.955 1)" font-size="31.6" text-anchor="end">3</text>
<text transform="translate(51.4 422.8) scale(0.955 1)" font-size="31.6" text-anchor="end">4</text>
<text transform="translate(51.4 356.0) scale(0.955 1)" font-size="31.6" text-anchor="end">5</text>
<text transform="translate(51.4 289.3) scale(0.955 1)" font-size="31.6" text-anchor="end">6</text>
<text transform="translate(51.4 222.6) scale(0.955 1)" font-size="31.6" text-anchor="end">7</text>
<text transform="translate(51.4 155.8) scale(0.955 1)" font-size="31.6" text-anchor="end">8</text>
<text transform="translate(51.4 89.1) scale(0.955 1)" font-size="31.6" text-anchor="end">9</text>
<text transform="translate(51.4 22.3) scale(0.955 1)" font-size="31.6" text-anchor="end">10</text>
<text transform="translate(150 653.9) scale(0.955 1)" font-size="31.6" text-anchor="middle">1</text>
<text transform="translate(278 653.9) scale(0.955 1)" font-size="31.6" text-anchor="middle">2</text>
<text transform="translate(395 653.9) scale(0.955 1)" font-size="31.6" text-anchor="middle">3</text>
<text transform="translate(493.5 653.9) scale(0.955 1)" font-size="31.6" text-anchor="middle">4</text>
<text transform="translate(597 653.9) scale(0.955 1)" font-size="31.6" text-anchor="middle">5</text>
<text transform="translate(689.4 653.9) scale(0.955 1)" font-size="31.6" text-anchor="middle">6</text>
<text transform="translate(777.2 653.9) scale(0.955 1)" font-size="31.6" text-anchor="middle">7</text>
<text transform="translate(859.4 653.9) scale(0.955 1)" font-size="31.6" text-anchor="middle">8</text>
<text transform="translate(932.8 653.9) scale(0.955 1)" font-size="31.6" text-anchor="middle">9</text>
<text transform="translate(1006.2 653.9) scale(0.955 1)" font-size="31.6" text-anchor="middle">10</text>
<text transform="translate(1080.4 653.9) scale(0.955 1)" font-size="31.6" text-anchor="middle">11</text>
<text transform="translate(1150 653.9) scale(0.955 1)" font-size="31.6" text-anchor="middle">12</text>
<text transform="translate(1219 653.9) scale(0.955 1)" font-size="31.6" text-anchor="middle">13</text>
<text transform="translate(1280 653.9) scale(0.955 1)" font-size="31.6" text-anchor="middle">14</text>
<text transform="translate(1339 653.9) scale(0.955 1)" font-size="31.6" text-anchor="middle">15</text>
<text transform="translate(1440.8 653.9) scale(0.955 1)" font-size="31.6" text-anchor="middle">17</text>
<text transform="translate(1526 653.9) scale(0.955 1)" font-size="31.6" text-anchor="middle">19</text>
<text transform="translate(1601 652.9) scale(0.955 1)" font-size="31.6" text-anchor="middle">21</text>
<text transform="translate(1681 653.9) scale(0.955 1)" font-size="31.6" text-anchor="middle">X</text>
<text transform="translate(872.7 689.9) scale(0.983 1)" font-size="31.7" text-anchor="middle">Chromosome (hg38)</text>
<text transform="translate(23.9 346.7) rotate(-90)" font-size="30.7" text-anchor="middle">-log<tspan font-size="17.5" dy="10.5">10</tspan><tspan dy="-10.5">(p-value)</tspan></text>
</g>
<text transform="translate(765.3 126.3) scale(0.92 1)" font-size="37.6" stroke-width="1">rs73293634</text>
<text transform="translate(898.6 172.8) scale(0.92 1)" font-size="37.6" stroke-width="1">rs75042057</text>
</svg>
</body></html>
